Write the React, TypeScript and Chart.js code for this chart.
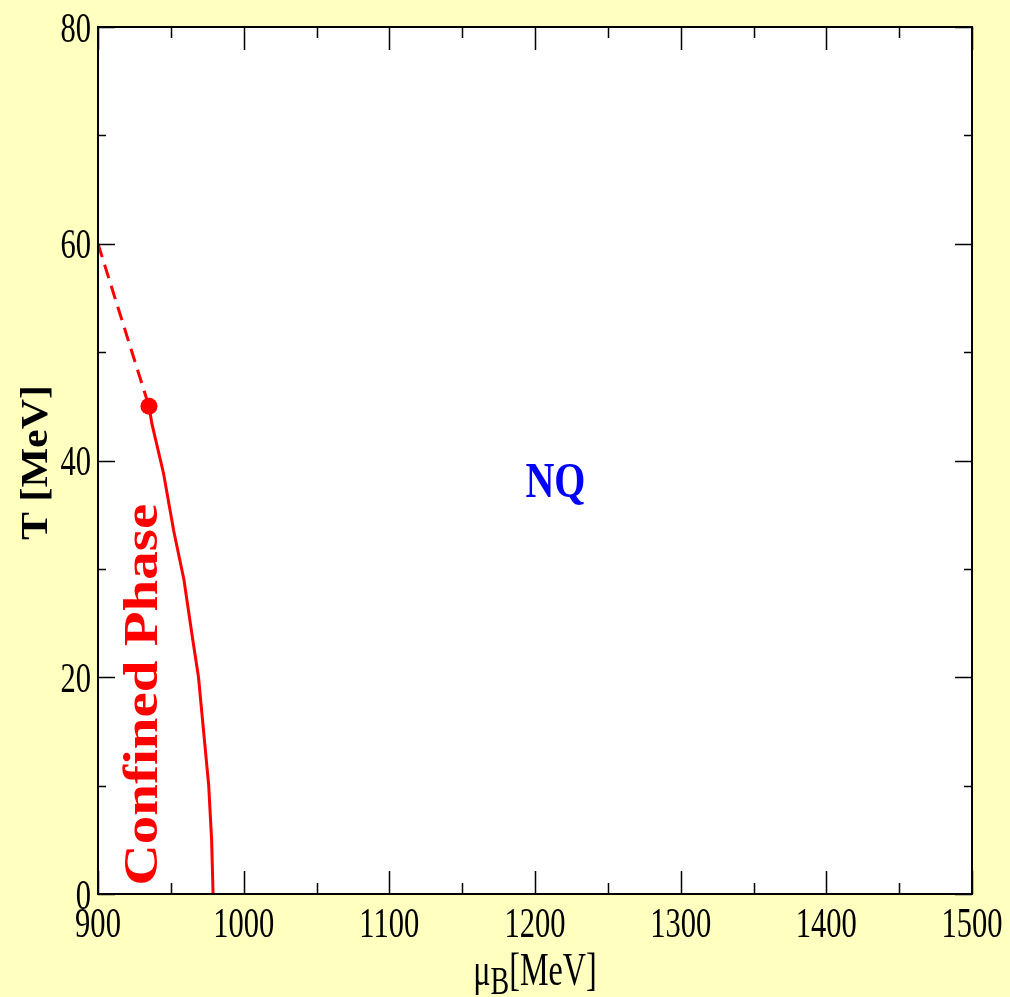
import React, { useEffect, useRef } from "react";
import { Chart, registerables } from "chart.js";

Chart.register(...registerables);

// ---- data ----
const dashedMu = [900, 935];
const dashedT = [60, 45];
const solidMu = [935, 937, 945, 952, 959, 965, 969, 972.5, 976, 978, 979];
const solidT = [45, 43.4, 38.8, 33.5, 29, 23.5, 20, 15, 10, 5, 0];
const endPointMu = [935];
const endPointT = [45];

const xMajorTicks = [900, 1000, 1100, 1200, 1300, 1400, 1500];
const xMinorTicks = [950, 1050, 1150, 1250, 1350, 1450];
const yMajorTicks = [0, 20, 40, 60, 80];
const yMinorTicks = [10, 30, 50, 70];

const xTitleMain = "μ";
const xTitleSub = "B";
const xTitleRest = "[MeV]";
const yTitle = "T [MeV]";
const labelNQ = "NQ";
const labelConfined = "Confined Phase";

const BG = "#FFFFC0";
const SERIF = "'Liberation Serif', 'Times New Roman', serif";

function drawText(
  ctx: CanvasRenderingContext2D,
  text: string,
  x: number,
  y: number,
  font: string,
  color: string,
  sx: number,
  rot: number,
  align: CanvasTextAlign
) {
  ctx.save();
  ctx.translate(x, y);
  ctx.scale(sx, 1);
  ctx.rotate(rot);
  ctx.font = font;
  ctx.fillStyle = color;
  ctx.textAlign = align;
  ctx.textBaseline = "alphabetic";
  ctx.fillText(text, 0, 0);
  ctx.restore();
}

const decor = {
  id: "decor",
  beforeDraw(chart: any) {
    const { ctx, chartArea: a, width, height } = chart;
    ctx.save();
    ctx.fillStyle = BG;
    ctx.fillRect(0, 0, width, height);
    ctx.fillStyle = "#FFFFFF";
    ctx.fillRect(a.left, a.top, a.right - a.left, a.bottom - a.top);
    ctx.restore();
  },
  afterDraw(chart: any) {
    const { ctx, chartArea: a } = chart;
    const xs = chart.scales.x;
    const ys = chart.scales.y;
    ctx.save();
    // ticks (inward, all four sides)
    ctx.strokeStyle = "#000";
    ctx.lineWidth = 1.5;
    ctx.beginPath();
    const xt = (v: number, len: number) => {
      const p = Math.round(xs.getPixelForValue(v)) + 0.5;
      ctx.moveTo(p, a.bottom);
      ctx.lineTo(p, a.bottom - len);
      ctx.moveTo(p, a.top);
      ctx.lineTo(p, a.top + len);
    };
    const yt = (v: number, len: number) => {
      const p = Math.round(ys.getPixelForValue(v)) + 0.5;
      ctx.moveTo(a.left, p);
      ctx.lineTo(a.left + len, p);
      ctx.moveTo(a.right, p);
      ctx.lineTo(a.right - len, p);
    };
    xMajorTicks.forEach((v) => xt(v, 23));
    xMinorTicks.forEach((v) => xt(v, 11));
    yMajorTicks.forEach((v) => yt(v, 17));
    yMinorTicks.forEach((v) => yt(v, 8));
    ctx.stroke();
    // frame
    ctx.lineWidth = 2;
    ctx.strokeRect(a.left, a.top, a.right - a.left, a.bottom - a.top);
    ctx.restore();

    const tickFont = `43px ${SERIF}`;
    xMajorTicks.forEach((v) => {
      drawText(ctx, String(v), xs.getPixelForValue(v), a.bottom + 43, tickFont, "#000", 0.71, 0, "center");
    });
    yMajorTicks.forEach((v) => {
      drawText(ctx, String(v), a.left - 7, ys.getPixelForValue(v) + 14.5, tickFont, "#000", 0.71, 0, "right");
    });

    // x title: mu_B[MeV]
    ctx.save();
    const mainFont = `46px ${SERIF}`;
    const subFont = `40px ${SERIF}`;
    ctx.font = mainFont;
    const wMu = ctx.measureText(xTitleMain).width * 0.7;
    const wRest = ctx.measureText(xTitleRest).width * 0.7;
    ctx.font = subFont;
    const wSub = ctx.measureText(xTitleSub).width * 0.7;
    ctx.restore();
    const total = wMu + wSub + wRest;
    const cx = (a.left + a.right) / 2;
    let x0 = cx - total / 2;
    const base = a.bottom + 91;
    drawText(ctx, xTitleMain, x0, base, mainFont, "#000", 0.7, 0, "left");
    x0 += wMu;
    drawText(ctx, xTitleSub, x0, base + 9, subFont, "#000", 0.7, 0, "left");
    x0 += wSub;
    drawText(ctx, xTitleRest, x0, base, mainFont, "#000", 0.7, 0, "left");

    // y title
    drawText(ctx, yTitle, 47, (a.top + a.bottom) / 2 + 2, `bold 42px ${SERIF}`, "#000", 0.9, -Math.PI / 2, "center");

    // annotations
    drawText(ctx, labelNQ, xs.getPixelForValue(1214), ys.getPixelForValue(36.6), `bold 50px ${SERIF}`, "#0000FF", 0.8, 0, "center");
    drawText(ctx, labelConfined, xs.getPixelForValue(940.5), ys.getPixelForValue(18.4), `bold 57px ${SERIF}`, "#FF0000", 0.86, -Math.PI / 2, "center");
  },
};

export default function App() {
  const ref = useRef<HTMLCanvasElement | null>(null);
  useEffect(() => {
    if (!ref.current) return;
    const chart = new Chart(ref.current, {
      type: "scatter",
      data: {
        datasets: [
          {
            label: "dashed",
            data: dashedMu.map((x, i) => ({ x, y: dashedT[i] })),
            showLine: true,
            borderColor: "#FF0000",
            borderWidth: 3,
            borderDash: [14, 8],
            pointRadius: 0,
            fill: false,
          },
          {
            label: "solid",
            data: solidMu.map((x, i) => ({ x, y: solidT[i] })),
            showLine: true,
            borderColor: "#FF0000",
            borderWidth: 3,
            pointRadius: 0,
            fill: false,
          },
          {
            label: "endpoint",
            data: endPointMu.map((x, i) => ({ x, y: endPointT[i] })),
            showLine: false,
            backgroundColor: "#FF0000",
            borderColor: "#FF0000",
            pointRadius: 8.5,
            pointBorderWidth: 0,
          },
        ],
      },
      options: {
        responsive: false,
        animation: false,
        events: [],
        layout: { padding: { left: 98, top: 27, right: 38, bottom: 103 } },
        plugins: { legend: { display: false }, tooltip: { enabled: false } },
        scales: {
          x: { type: "linear", min: 900, max: 1500, display: false },
          y: { type: "linear", min: 0, max: 80, display: false },
        },
      },
      plugins: [decor],
    });
    return () => chart.destroy();
  }, []);
  return (
    <div style={{ position: "absolute", left: 0, top: 0, width: 1010, height: 997, background: BG }}>
      <canvas ref={ref} width={1010} height={997} />
    </div>
  );
}
